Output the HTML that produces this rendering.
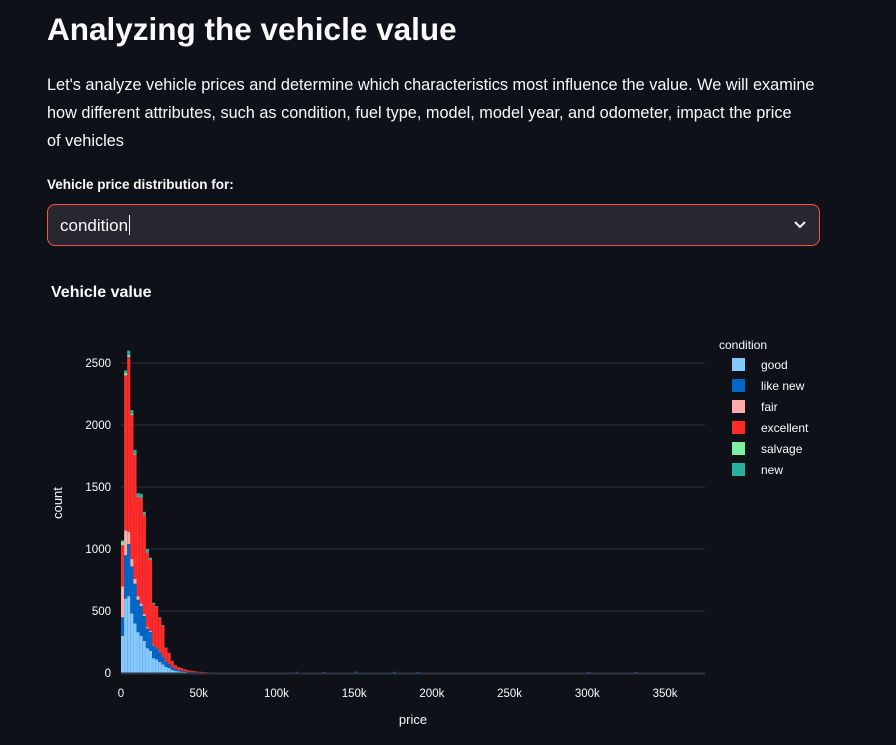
<!DOCTYPE html>
<html><head><meta charset="utf-8"><style>
body{margin:0;background:#0e1117;width:896px;height:745px;overflow:hidden;font-family:"Liberation Sans",sans-serif;color:#fafafa}
.t{position:absolute;left:47px;top:11px;font-size:31.5px;font-weight:bold;margin:0}
.p{position:absolute;left:47px;top:71px;width:840px;white-space:nowrap;font-size:16.3px;line-height:28px;margin:0}
.l{position:absolute;left:47px;top:177px;font-size:13.5px;font-weight:bold}
.s{position:absolute;left:47px;top:204px;width:773px;height:42px;border:1px solid #ff4b4b;border-radius:8px;background:#262730;box-sizing:border-box}
.s span{position:absolute;left:12px;top:10px;font-size:17px}
.ct{position:absolute;left:51px;top:284px;font-size:16px;font-weight:bold}
svg{position:absolute;left:0;top:0}
</style></head><body>
<h1 class="t">Analyzing the vehicle value</h1>
<p class="p">Let's analyze vehicle prices and determine which characteristics most influence the value. We will examine<br>how different attributes, such as condition, fuel type, model, model year, and odometer, impact the price<br>of vehicles</p>
<div class="l">Vehicle price distribution for:</div>
<div class="s"><span>condition<span style="display:inline-block;width:1px;height:20px;background:#fafafa;vertical-align:-4px;margin-left:1px;position:static"></span></span>
<svg style="left:745px;top:15px" width="14" height="10"><path d="M2 2 L7 7 L12 2" stroke="#fafafa" stroke-width="2" fill="none"/></svg></div>
<div class="ct">Vehicle value</div>
<svg id="chart" width="896" height="745" style="pointer-events:none"></svg>
<script>
const binSize=2; // k
const categories=["good","like new","fair","excellent","salvage","new"];
const colors=["#83c9ff","#0068c9","#ffabab","#ff2b2b","#7defa1","#29b09d"];
const good=[300,600,620,480,400,330,300,260,200,180,120,110,90,70,50,40,25,18,12,10,8,6,5,4,3,3,2,2,1,1,1,1,0,1,0,0,0,0,0,0,0,0,0,0,0,0,0,0,0,0];
const likeNew=[150,350,420,380,320,260,240,200,160,150,100,90,80,60,40,30,20,15,10,8,6,5,4,3,2,2,2,1,1,1,1,0,1,0,0,0,0,0,0,0,0,0,0,0,0,0,0,0,0,0];
const fair=[250,200,100,60,40,30,20,15,10,8,5,4,3,2,2,1,1,1,0,0,0,0,0,0,0,0,0,0,0,0,0,0,0,0,0,0,0,0,0,0,0,0,0,0,0,0,0,0,0,0];
const excellent=[330,1250,1410,1160,1000,800,850,800,600,570,330,330,270,250,110,90,50,30,25,20,15,12,10,8,6,5,4,3,3,2,2,2,1,1,1,1,1,0,1,0,0,1,0,0,0,0,0,0,0,0];
const salvage=[30,20,15,10,8,5,4,3,2,2,1,1,1,0,0,0,0,0,0,0,0,0,0,0,0,0,0,0,0,0,0,0,0,0,0,0,0,0,0,0,0,0,0,0,0,0,0,0,0,0];
const newer=[10,20,35,30,32,25,30,22,28,20,10,5,6,5,3,2,2,1,1,1,1,1,0,1,0,0,0,0,0,0,0,0,0,0,0,0,0,0,0,0,0,0,0,0,0,0,0,0,0,0];
const series=[good,likeNew,fair,excellent,salvage,newer];
const tailPrices=[112,130,150,175,190,300,330];
const tailCounts=[2,1,3,2,1,1,1];
const yTicks=[0,500,1000,1500,2000,2500];
const xTicks=[0,50,100,150,200,250,300,350];
const xTickLabels=["0","50k","100k","150k","200k","250k","300k","350k"];
const X0=121,X1=705,XMAX=375.7,Y0=673,YS=0.124;
const xs=v=>X0+v/XMAX*(X1-X0), ys=c=>Y0-c*YS;
const svg=document.getElementById('chart'),NS="http://www.w3.org/2000/svg";
function mk(t,a,p){const e=document.createElementNS(NS,t);for(const k in a)e.setAttribute(k,a[k]);(p||svg).appendChild(e);return e;}
yTicks.forEach(v=>{
 if(v>0){const g=mk('line',{x1:X0,x2:X1,y1:ys(v),y2:ys(v),stroke:'#31333f','stroke-width':1});
 
 }
 const t=mk('text',{x:X0-10,y:ys(v)+4,'text-anchor':'end','font-size':11.5,fill:'#fafafa','font-family':'Liberation Sans'});t.textContent=v;
 
 
});
xTicks.forEach((v,i)=>{const t=mk('text',{x:xs(v),y:Y0+24,'text-anchor':'middle','font-size':11.5,fill:'#fafafa','font-family':'Liberation Sans'});t.textContent=xTickLabels[i];
 
 });
for(let i=0;i<good.length;i++){let base=0;
 series.forEach((s,j)=>{if(!s[i])return;const r=mk('rect',{x:xs(i*binSize),width:xs((i+1)*binSize)-xs(i*binSize),y:ys(base+s[i]),height:s[i]*YS,fill:colors[j]});
 
 
 base+=s[i];});}
tailPrices.forEach((p,i)=>{const r=mk('rect',{x:xs(p),width:xs(binSize)-xs(0),y:ys(tailCounts[i])-1,height:Math.max(tailCounts[i]*YS,1.5),fill:'#0068c9'});
 
 });
const ax=mk('line',{x1:X0,x2:X1,y1:Y0+0.5,y2:Y0+0.5,stroke:'#31333f','stroke-width':2});


const yt=mk('text',{transform:'translate(62,503) rotate(-90)','text-anchor':'middle','font-size':13,fill:'#fafafa','font-family':'Liberation Sans'});yt.textContent='count';


const xt=mk('text',{x:413,y:724,'text-anchor':'middle','font-size':13,fill:'#fafafa','font-family':'Liberation Sans'});xt.textContent='price';


const lt=mk('text',{x:719,y:349,'font-size':12,fill:'#fafafa','font-family':'Liberation Sans'});lt.textContent='condition';


categories.forEach((c,i)=>{const y=365+i*21;
 const r=mk('rect',{x:732,y:y-7,width:13,height:13,fill:colors[i]});
 
 
 const t=mk('text',{x:761,y:y+4,'font-size':12,fill:'#fafafa','font-family':'Liberation Sans'});t.textContent=c;
 
 });
</script>
</body></html>
